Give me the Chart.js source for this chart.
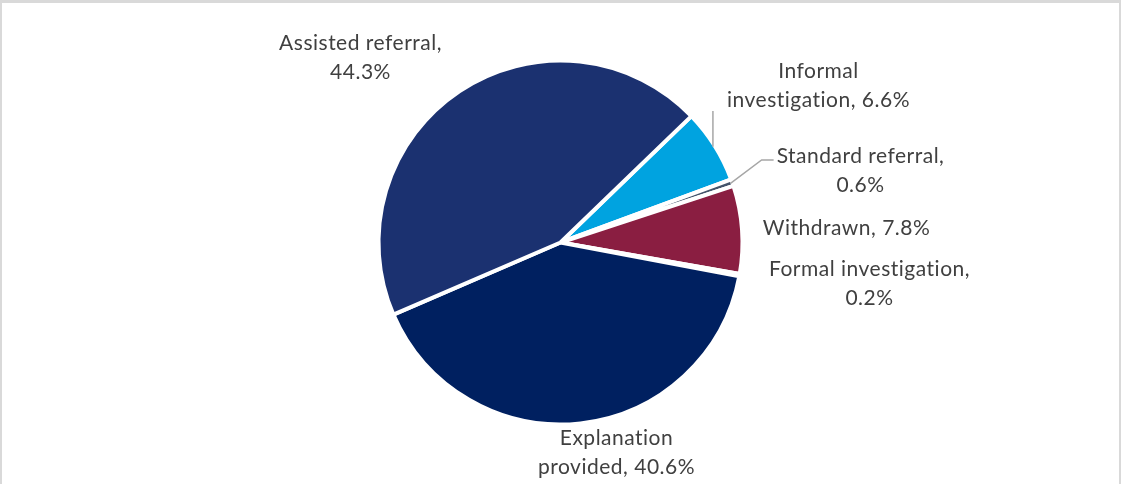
<!DOCTYPE html>
<html>
<head>
<meta charset="utf-8">
<script src="https://cdn.jsdelivr.net/npm/chart.js@4.4.1/dist/chart.umd.min.js"></script>
<style>
  html,body{margin:0;padding:0;background:#fff;}
  #wrap{position:relative;width:1121px;height:484px;box-sizing:border-box;border:2px solid #d9d9d9;border-bottom:none;border-top-width:3px;overflow:hidden;}
  #wrap canvas{position:absolute;left:-2px;top:-3px;}
</style>
</head>
<body>
<div id="wrap"><canvas id="c" width="1121" height="484"></canvas></div>
<script>
const categories = ["Informal investigation", "Standard referral", "Withdrawn", "Formal investigation", "Explanation provided", "Assisted referral"];
const values = [6.6, 0.6, 7.8, 0.2, 40.6, 44.3];
const labelLines = [
  ["Informal", "investigation, 6.6%"],
  ["Standard referral,", "0.6%"],
  ["Withdrawn, 7.8%"],
  ["Formal investigation,", "0.2%"],
  ["Explanation", "provided, 40.6%"],
  ["Assisted referral,", "44.3%"]
];
const colors = ["#00A3E0", "#44546A", "#8A1E41", "#A5A5A5", "#002060", "#1B3170"];

// label placement relative to pie centre (layout only)
const labelOffsets = [[258,-157],[300,-72],[286,-14],[309,41],[56,210],[-200,-185]];
const leaderLines = {0: "vertical", 1: "elbow"};

const labelPlugin = {
  id: 'outLabels',
  afterDatasetsDraw(chart) {
    const ctx = chart.ctx;
    const meta = chart.getDatasetMeta(0);
    const font = '21px Lato, "Open Sans", sans-serif';
    const lh = 29;
    ctx.save();
    ctx.font = font;
    if ('letterSpacing' in ctx) ctx.letterSpacing = '0.5px';
    ctx.fillStyle = '#404040';
    ctx.textAlign = 'center';
    ctx.textBaseline = 'middle';
    meta.data.forEach((arc, i) => {
      const p = arc.getProps(['x','y','startAngle','endAngle','outerRadius'], true);
      const cx = p.x, cy = p.y;
      const lx = cx + labelOffsets[i][0], ly = cy + labelOffsets[i][1];
      const lines = labelLines[i];
      const top = ly - (lines.length - 1) * lh / 2;
      lines.forEach((t, k) => ctx.fillText(t, lx, top + k * lh));
      const mid = (p.startAngle + p.endAngle) / 2;
      const r = p.outerRadius - 2;
      const ax = cx + Math.cos(mid) * r, ay = cy + Math.sin(mid) * r;
      ctx.strokeStyle = '#a6a6a6';
      ctx.lineWidth = 1.5;
      if (leaderLines[i] === 'vertical') {
        const bottom = top + (lines.length - 1) * lh + 11;
        ctx.beginPath(); ctx.moveTo(ax, ay); ctx.lineTo(ax, bottom); ctx.stroke();
      } else if (leaderLines[i] === 'elbow') {
        const w = ctx.measureText(lines[0]).width;
        const ex = lx - w / 2 - 3, ey = top + 4;
        ctx.beginPath(); ctx.moveTo(ax, ay); ctx.lineTo(ex - 12, ey); ctx.lineTo(ex, ey); ctx.stroke();
      }
    });
    ctx.restore();
  }
};

new Chart(document.getElementById('c'), {
  type: 'pie',
  data: {
    labels: categories,
    datasets: [{
      data: values,
      backgroundColor: colors,
      borderColor: '#ffffff',
      borderWidth: 4
    }]
  },
  options: {
    responsive: false,
    animation: false,
    rotation: 46,
    radius: 182,
    layout: { padding: { left: 0, right: 0, top: 1, bottom: 0 } },
    plugins: { legend: { display: false }, tooltip: { enabled: false } }
  },
  plugins: [labelPlugin]
});
</script>
</body>
</html>
